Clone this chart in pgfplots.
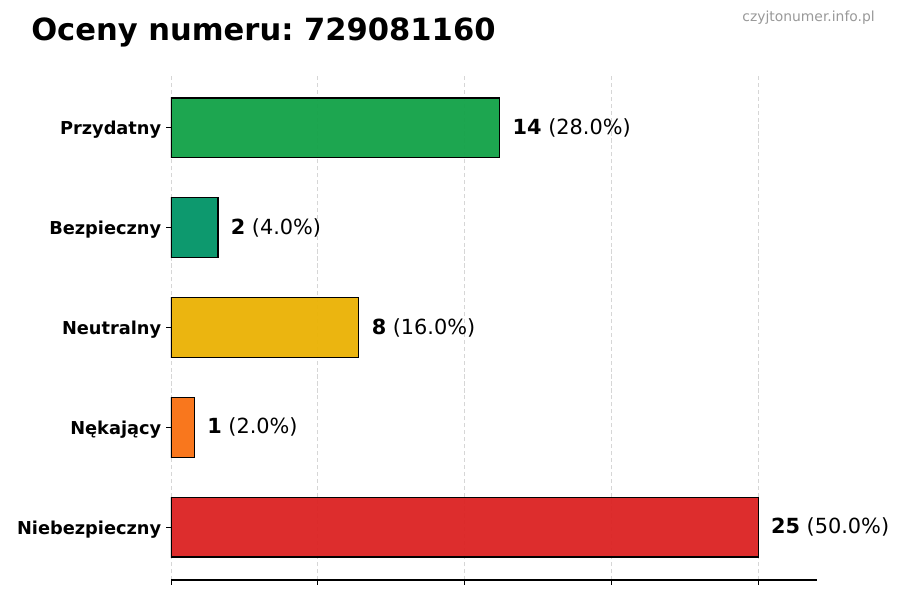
\documentclass[border=0pt]{standalone}
\usepackage{pgfplots}
\pgfplotsset{compat=1.18}
\usepackage{fontspec}
\setmainfont{DejaVu Sans}
\frenchspacing
\definecolor{cgreen}{HTML}{16A34A}
\definecolor{cteal}{HTML}{059669}
\definecolor{cyellow}{HTML}{EAB308}
\definecolor{corange}{HTML}{F97316}
\definecolor{cred}{HTML}{DC2626}
\begin{document}
\begin{tikzpicture}
\begin{axis}[
  at={(0pt,0pt)}, anchor=south west,
  scale only axis, width=465.12pt, height=363.6pt,
  xbar, bar width=0.6, bar shift=0pt,
  xmin=0, xmax=27.5, ymin=-0.53, ymax=4.53,
  axis x line*=bottom, axis y line*=left,
  y axis line style={draw=none},
  xtick={0,6.25,12.5,18.75,25}, xticklabels={},
  ytick={0,1,2,3,4},
  yticklabels={Niebezpieczny,Nękający,Neutralny,Bezpieczny,Przydatny},
  yticklabel style={font=\fontsize{12.8}{15}\selectfont\bfseries, yshift=-1.5pt},
  tick align=outside, major tick length=3.5pt,
  tick style={black, line width=0.6pt},
  xmajorgrids, major x grid style={dash pattern=on 3pt off 2pt, black!16, line width=0.6pt},
  x axis line style={line width=0.8pt},
  nodes near coords style={anchor=west, xshift=5.5pt, text=black, font=\fontsize{15}{18}\selectfont},
  every axis plot/.append style={draw=black, line width=0.8pt, fill opacity=0.97, text opacity=1},
]
\addplot[fill=cgreen, nodes near coords={\textbf{14} (28.0\%)}] coordinates {(14,4)};
\addplot[fill=cteal, nodes near coords={\textbf{2} (4.0\%)}] coordinates {(2,3)};
\addplot[fill=cyellow, nodes near coords={\textbf{8} (16.0\%)}] coordinates {(8,2)};
\addplot[fill=corange, nodes near coords={\textbf{1} (2.0\%)}] coordinates {(1,1)};
\addplot[fill=cred, nodes near coords={\textbf{25} (50.0\%)}] coordinates {(25,0)};
\end{axis}
\node[anchor=base west, inner sep=0pt, font=\fontsize{22}{26}\selectfont\bfseries] at (-100.8pt,388.1pt) {Oceny numeru: 729081160};
\node[anchor=base east, inner sep=0pt, text=black!40, font=\fontsize{10}{12}\selectfont] at (506.9pt,401.8pt) {czyjtonumer.info.pl};
\pgfresetboundingbox
\useasboundingbox (-123.12pt,-14.4pt) rectangle (524.88pt,417.6pt);
\end{tikzpicture}
\end{document}
